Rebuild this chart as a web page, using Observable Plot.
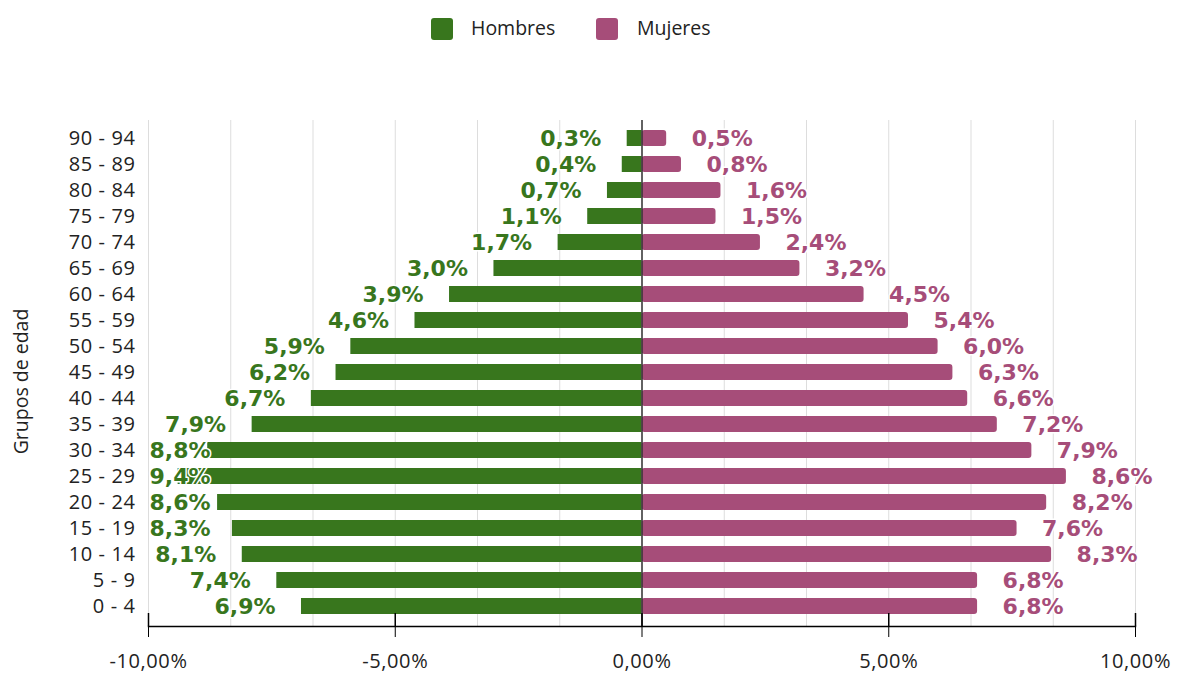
<!DOCTYPE html>
<html>
<head>
<meta charset="utf-8">
<script src="https://cdn.jsdelivr.net/npm/d3@7"></script>
<script src="https://cdn.jsdelivr.net/npm/@observablehq/plot@0.6"></script>
<style>
  html, body { margin: 0; padding: 0; background: #fff; }
  body { width: 1182px; height: 673px; position: relative; overflow: hidden; font-family: "Open Sans", sans-serif; }
  #legend { position: relative; height: 60px; }
  .sw { position: absolute; top: 18px; width: 22px; height: 22px; border-radius: 3px; }
  .lt { position: absolute; top: 14px; font-size: 19.5px; color: #222; }
  .axtext text { letter-spacing: 0.6px; }
</style>
</head>
<body>
<div id="legend"></div>
<div id="chart"></div>
<script>
const ageGroups = ["90 - 94","85 - 89","80 - 84","75 - 79","70 - 74","65 - 69","60 - 64","55 - 59","50 - 54","45 - 49","40 - 44","35 - 39","30 - 34","25 - 29","20 - 24","15 - 19","10 - 14","5 - 9","0 - 4"];
const hombres = [0.3,0.4,0.7,1.1,1.7,3.0,3.9,4.6,5.9,6.2,6.7,7.9,8.8,9.4,8.6,8.3,8.1,7.4,6.9];
const mujeres = [0.5,0.8,1.6,1.5,2.4,3.2,4.5,5.4,6.0,6.3,6.6,7.2,7.9,8.6,8.2,7.6,8.3,6.8,6.8];
const seriesNames = ["Hombres", "Mujeres"];
const seriesColors = ["#38761d", "#a64d79"];
const xTicks = [-10, -5, 0, 5, 10];
const yTitle = "Grupos de edad";

const legend = document.getElementById("legend");
const swLeft = [431, 596], txLeft = [471, 637];
seriesNames.forEach((n, i) => {
  const s = document.createElement("div");
  s.className = "sw"; s.style.left = swLeft[i] + "px"; s.style.background = seriesColors[i];
  legend.appendChild(s);
  const t = document.createElement("div");
  t.className = "lt"; t.style.left = txLeft[i] + "px"; t.textContent = n;
  legend.appendChild(t);
});

const men = ageGroups.map((g, i) => ({group: g, value: hombres[i]}));
const women = ageGroups.map((g, i) => ({group: g, value: mujeres[i]}));
const gridVals = d3.range(0, 13).map(k => -10 + k * 5 / 3);
const fmtPct = v => v.toFixed(1).replace(".", ",") + "%";
const fmtTick = v => v.toFixed(2).replace(".", ",") + "%";
const pxPerUnit = (1135 - 148) / 20;

const chart = Plot.plot({
  width: 1182,
  height: 613,
  marginTop: 60,
  marginBottom: 47,
  marginLeft: 148,
  marginRight: 47,
  style: {fontFamily: "'Open Sans', sans-serif", fontSize: "20px", color: "#222", background: "#fff"},
  x: {domain: [-10, 10]},
  y: {domain: ageGroups, paddingInner: 0.38, paddingOuter: 0.19, insetTop: 3, insetBottom: 5},
  marks: [
    Plot.ruleX(gridVals, {stroke: "#dddddd", strokeWidth: 1}),
    Plot.barX(men, {y: "group", x1: 0, x2: d => -d.value, fill: seriesColors[0]}),
    Plot.barX(women, {y: "group", x1: 0, x2: "value", fill: seriesColors[1], rx: 3}),
    Plot.ruleX([0], {stroke: "#333", strokeWidth: 1.5}),
    Plot.ruleX(xTicks, {stroke: "#000", strokeWidth: 1.5, insetTop: 493}),
    Plot.frame({anchor: "bottom", stroke: "#000", strokeWidth: 1.5}),
    Plot.axisX({ticks: xTicks, tickFormat: fmtTick, tickSize: 11, tickPadding: 16, stroke: "#000", label: null, fontSize: 20, fill: "#222", className: "axtext"}),
    Plot.axisY({tickSize: 0, tickPadding: 13, label: null, fontSize: 20, fill: "#222", className: "axtext"}),
    Plot.text(men, {
      y: "group",
      x: d => Math.max(-d.value - 26 / pxPerUnit, -10 + 62 / pxPerUnit),
      text: d => fmtPct(d.value),
      textAnchor: "end",
      fill: seriesColors[0], stroke: "#fff", strokeWidth: 3,
      fontFamily: "DejaVu Sans", fontWeight: "bold", fontSize: 22
    }),
    Plot.text(women, {
      y: "group", x: "value", dx: 25,
      text: d => fmtPct(d.value),
      textAnchor: "start",
      fill: seriesColors[1], stroke: "#fff", strokeWidth: 3,
      fontFamily: "DejaVu Sans", fontWeight: "bold", fontSize: 22
    }),
    Plot.text([yTitle], {frameAnchor: "left", textAnchor: "middle", text: d => d, rotate: -90, dx: -127, dy: 8, fill: "#222", fontSize: 19.5})
  ]
});
document.getElementById("chart").appendChild(chart);
</script>
</body>
</html>
